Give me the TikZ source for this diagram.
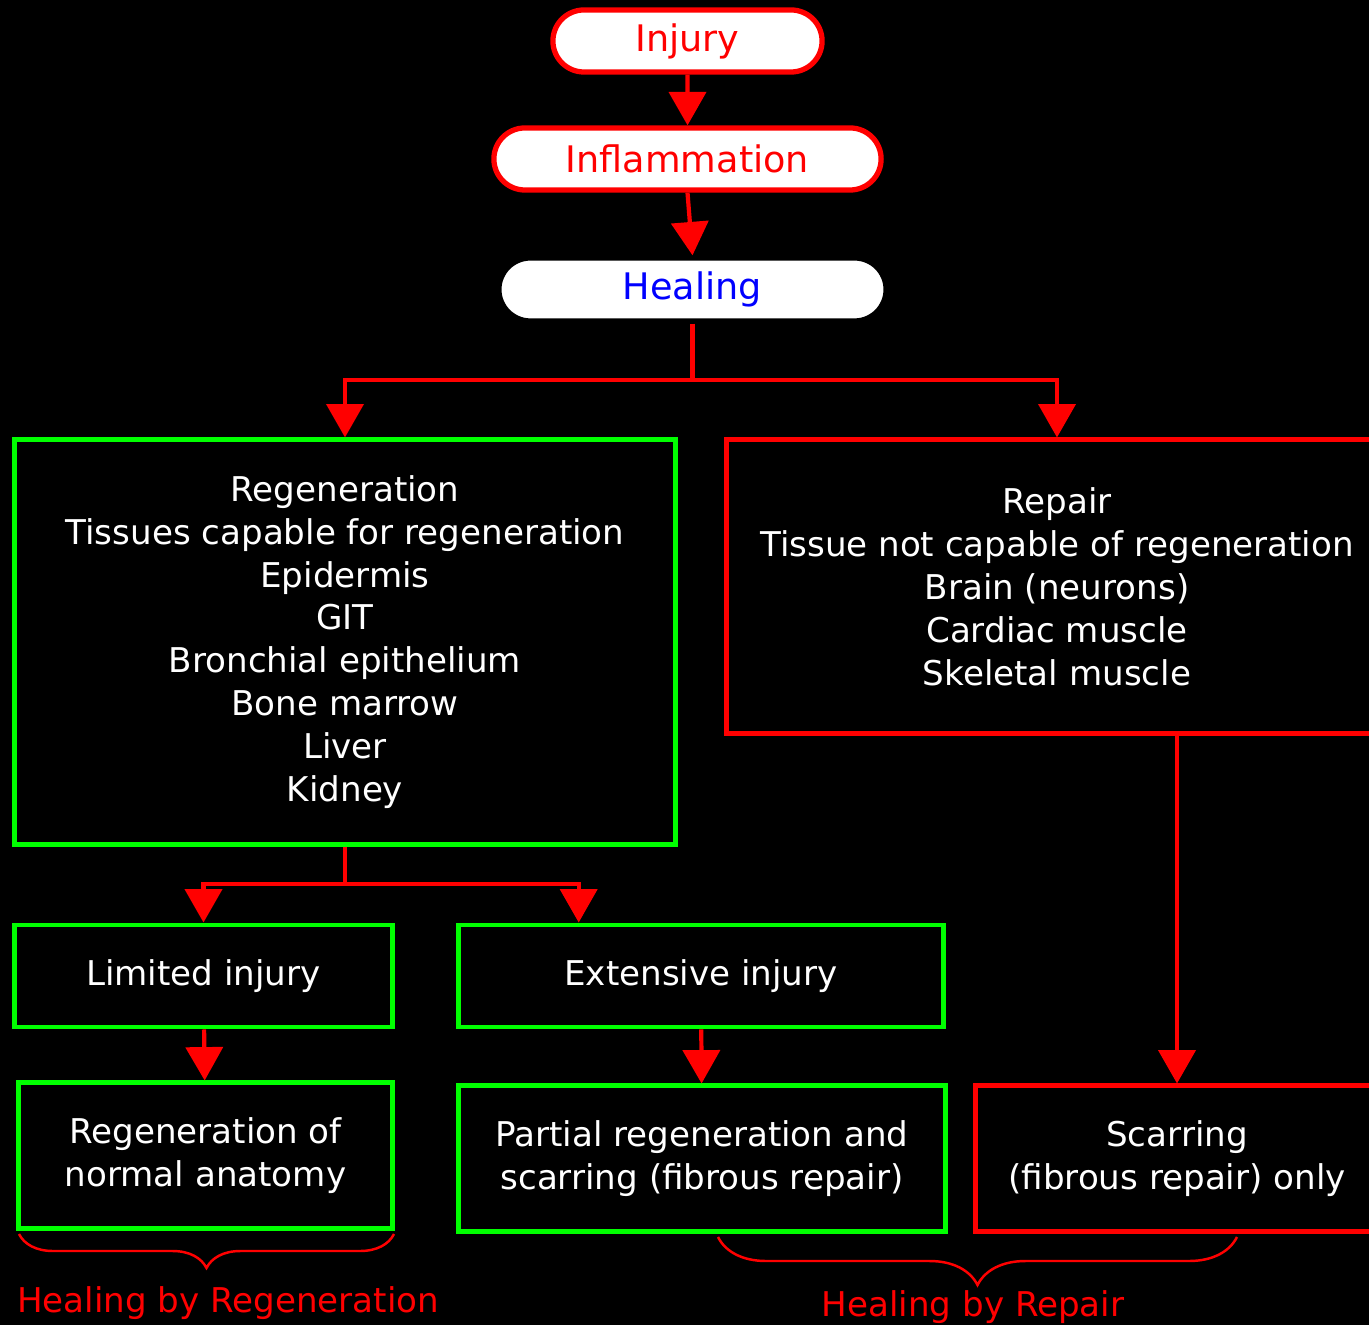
\documentclass[tikz,border=0pt]{standalone}
\usepackage{fontspec}
\setmainfont{DejaVu Sans}
\usetikzlibrary{arrows.meta,shapes.misc,calc,decorations.pathreplacing}
\definecolor{flowred}{RGB}{255,0,0}
\definecolor{boxgreen}{RGB}{0,255,0}
\definecolor{healblue}{RGB}{0,0,255}
\tikzset{
    pill/.style={rounded rectangle,draw=flowred,line width=1.5pt,fill=white,text=flowred,inner sep=0pt,minimum height=0.62cm,font=\fontsize{10.4}{12}\selectfont},
    greenbox/.style={draw=boxgreen,line width=1.4pt,text=white,align=center,inner sep=0pt,font=\fontsize{9.7}{12.2}\selectfont},
    redbox/.style={greenbox,draw=flowred},
    arr/.style={draw=flowred,line width=1.2pt,-{Triangle[width=10.5pt,length=9.5pt]}},
    brace/.style={draw=flowred,line width=0.7pt,decorate,decoration={brace,mirror,amplitude=#1}},
    caption/.style={text=flowred,inner sep=0pt,font=\fontsize{9.7}{12}\selectfont}
}
\begin{document}
\begin{tikzpicture}[x=0.01cm,y=-0.01cm]
            \path[use as bounding box,fill=black] (0,0) rectangle (1369,1325);
            \clip (0,0) rectangle (1369,1325);
            % top of the flow
            \node[pill,minimum width=2.69cm] (injury) at (687.5,41) {Injury};
            \node[pill,minimum width=3.87cm] (inflam) at (687.5,159) {Inflammation};
            \node[pill,draw=black,text=healblue,minimum width=3.87cm,minimum height=0.63cm] (healing) at (692.5,289.5) {Healing};
            \node[greenbox,minimum width=6.6cm,minimum height=4.04cm] (regen) at (345,642) {Regeneration\\Tissues capable for regeneration\\Epidermis\\GIT\\Bronchial epithelium\\Bone marrow\\Liver\\Kidney};
            \node[redbox,minimum width=6.6cm,minimum height=2.93cm] (repair) at (1057,586.5) {Repair\\Tissue not capable of regeneration\\Brain (neurons)\\Cardiac muscle\\Skeletal muscle};
            % lower boxes
            \node[greenbox,minimum width=3.77cm,minimum height=1.02cm] (limited) at (203.5,976) {Limited injury};
            \node[greenbox,minimum width=4.84cm,minimum height=1.02cm] (extensive) at (701,976) {Extensive injury};
            \node[greenbox,minimum width=3.73cm,minimum height=1.45cm] (normal) at (205.5,1155.5) {Regeneration of\\normal anatomy};
            \node[greenbox,minimum width=4.86cm,minimum height=1.45cm] (partial) at (702,1158.5) {Partial regeneration and\\scarring (fibrous repair)};
            \node[redbox,minimum width=4.02cm,minimum height=1.45cm] (scarring) at (1177,1158.5) {Scarring\\(fibrous repair) only};
            \coordinate (split1) at (692.5,380);
            \coordinate (split2) at (345,884);
            \path[arr] (injury) -- (inflam);
            \path[arr] (inflam.south) -- (healing.north);
            \path[arr] (healing.south) -- (split1) -| (regen.north);
            \path[arr] (split1) -| (repair.north);
            \path[arr] (regen.south) -- (split2) -| (limited.north);
            \path[arr] (split2) -| ($(extensive.north west)!0.25!(extensive.north east)$);
            \path[arr] (limited) -- (normal);
            \path[arr] (extensive) -- (partial);
            \path[arr] (repair.south -| scarring.north) -- (scarring.north);
            % braces under the bottom row
            \coordinate (bracea1) at (19,1234);
            \coordinate (bracea2) at (394,1234);
            \coordinate (braceb1) at (718,1237);
            \coordinate (braceb2) at (1237,1237);
            \draw[brace=0.34cm] (bracea1) -- (bracea2);
            \draw[brace=0.48cm] (braceb1) -- (braceb2);
            \node[caption] (byregen) at (228,1303) {Healing by Regeneration};
            \node[caption] (byrepair) at (973,1307) {Healing by Repair};
        \end{tikzpicture}
\end{document}
